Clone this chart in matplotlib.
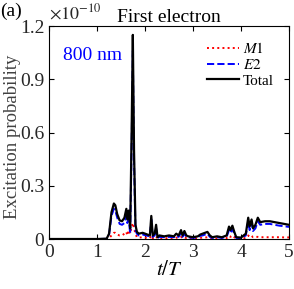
import matplotlib
matplotlib.use('Agg')
import matplotlib.pyplot as plt
import numpy as np

plt.rcParams['font.family'] = ['Liberation Serif', 'DejaVu Serif']
plt.rcParams['mathtext.fontset'] = 'stix'

# time in units of optical period T
t = [0.0, 1.0, 1.2, 1.25, 1.3, 1.35, 1.38, 1.42, 1.47, 1.52, 1.57, 1.61, 1.63,
     1.66, 1.69, 1.72, 1.745, 1.77, 1.8, 1.83, 1.87, 1.95, 2.05, 2.1, 2.13,
     2.16, 2.2, 2.23, 2.26, 2.3, 2.4, 2.5, 2.6, 2.65, 2.7, 2.75, 2.78, 2.82,
     2.86, 2.9, 3.0, 3.1, 3.15, 3.2, 3.25, 3.3, 3.35, 3.4, 3.5, 3.6, 3.7,
     3.75, 3.78, 3.82, 3.86, 3.9, 4.0, 4.1, 4.15, 4.18, 4.22, 4.25, 4.3,
     4.35, 4.4, 4.5, 4.6, 4.7, 4.8, 4.9, 5.0]

# excitation probabilities (x 1e-10)
total = [0.0, 0.0, 0.002, 0.03, 0.15, 0.20, 0.19, 0.14, 0.105, 0.10, 0.12,
         0.17, 0.11, 0.16, 0.06, 0.60, 1.15, 0.50, 0.08, 0.04, 0.03, 0.035,
         0.025, 0.02, 0.13, 0.02, 0.03, 0.08, 0.01, 0.02, 0.015, 0.02, 0.015,
         0.03, 0.02, 0.05, 0.02, 0.045, 0.02, 0.015, 0.01, 0.015, 0.025, 0.03,
         0.035, 0.04, 0.02, 0.01, 0.015, 0.01, 0.02, 0.07, 0.05, 0.075, 0.04,
         0.01, 0.008, 0.03, 0.12, 0.07, 0.11, 0.06, 0.08, 0.12, 0.095, 0.10,
         0.10, 0.095, 0.09, 0.085, 0.08]
e2 = [0.0, 0.0, 0.001, 0.025, 0.13, 0.17, 0.16, 0.12, 0.085, 0.08, 0.09,
      0.13, 0.09, 0.11, 0.03, 0.52, 1.06, 0.44, 0.05, 0.03, 0.02, 0.025,
      0.018, 0.015, 0.11, 0.012, 0.02, 0.06, 0.006, 0.012, 0.01, 0.012, 0.01,
      0.02, 0.012, 0.035, 0.012, 0.03, 0.012, 0.01, 0.006, 0.01, 0.018, 0.02,
      0.025, 0.03, 0.012, 0.006, 0.01, 0.006, 0.012, 0.05, 0.035, 0.055, 0.03,
      0.006, 0.005, 0.02, 0.10, 0.05, 0.09, 0.045, 0.06, 0.10, 0.08, 0.085,
      0.085, 0.08, 0.075, 0.072, 0.068]
m1 = [0.0, 0.0, 0.0, 0.004, 0.02, 0.035, 0.035, 0.025, 0.02, 0.02, 0.03,
      0.04, 0.02, 0.05, 0.03, 0.07, 0.09, 0.06, 0.03, 0.01, 0.008, 0.01,
      0.006, 0.005, 0.02, 0.004, 0.008, 0.015, 0.003, 0.005, 0.004, 0.005,
      0.004, 0.008, 0.005, 0.012, 0.005, 0.01, 0.005, 0.004, 0.003, 0.004,
      0.006, 0.008, 0.008, 0.01, 0.005, 0.003, 0.004, 0.003, 0.005, 0.018,
      0.012, 0.02, 0.01, 0.003, 0.002, 0.006, 0.02, 0.012, 0.018, 0.01,
      0.012, 0.012, 0.01, 0.01, 0.01, 0.01, 0.01, 0.009, 0.009]

xticks = [0, 1, 2, 3, 4, 5]
yticks = [0, 0.3, 0.6, 0.9, 1.2]
yticklabels = ['0', '0.3', '0.6', '0.9', '1.2']

fig = plt.figure(figsize=(2.94, 2.89), dpi=100)
ax = fig.add_axes([0.167, 0.173, 0.816, 0.737])

# values plotted in units of 1e-10, exponent shown as a separate label
ax.plot(t, m1, color='red', linestyle=':', linewidth=1.4, label='$M1$')
ax.plot(t, e2, color='blue', linestyle='--', linewidth=1.4, label='$E2$')
ax.plot(t, total, color='black', linestyle='-', linewidth=1.6, label='Total')

ax.set_xlim(0, 5)
ax.set_ylim(0, 1.2)
ax.set_xticks(xticks)
ax.set_yticks(yticks)
ax.set_yticklabels(yticklabels)

ax.tick_params(direction='in', top=True, right=True, labelsize=14, length=3.5,
               labelcolor='#262626')
ax.set_xlabel('$t/T$', fontsize=15, labelpad=0)
ax.set_ylabel('Excitation probability', fontsize=13.5, color='#404040')
ax.yaxis.set_label_coords(-0.118, 0.48)
ax.set_title('First electron', fontsize=14, pad=3, x=0.5)
ax.text(0.0, 1.015, r'$\times 10^{-10}$', transform=ax.transAxes, fontsize=13,
        ha='left', va='bottom', color='#262626')

ax.text(0.06, 0.84, '800 nm', transform=ax.transAxes, color='blue', fontsize=14)
fig.text(0.0, 0.945, '(a)', fontsize=14)

ax.legend(loc='upper right', frameon=False, fontsize=11, handlelength=2.1,
          handletextpad=0.25, labelspacing=0.12, borderaxespad=0.7,
          borderpad=0.3)

fig.savefig('out.png', dpi=100)
